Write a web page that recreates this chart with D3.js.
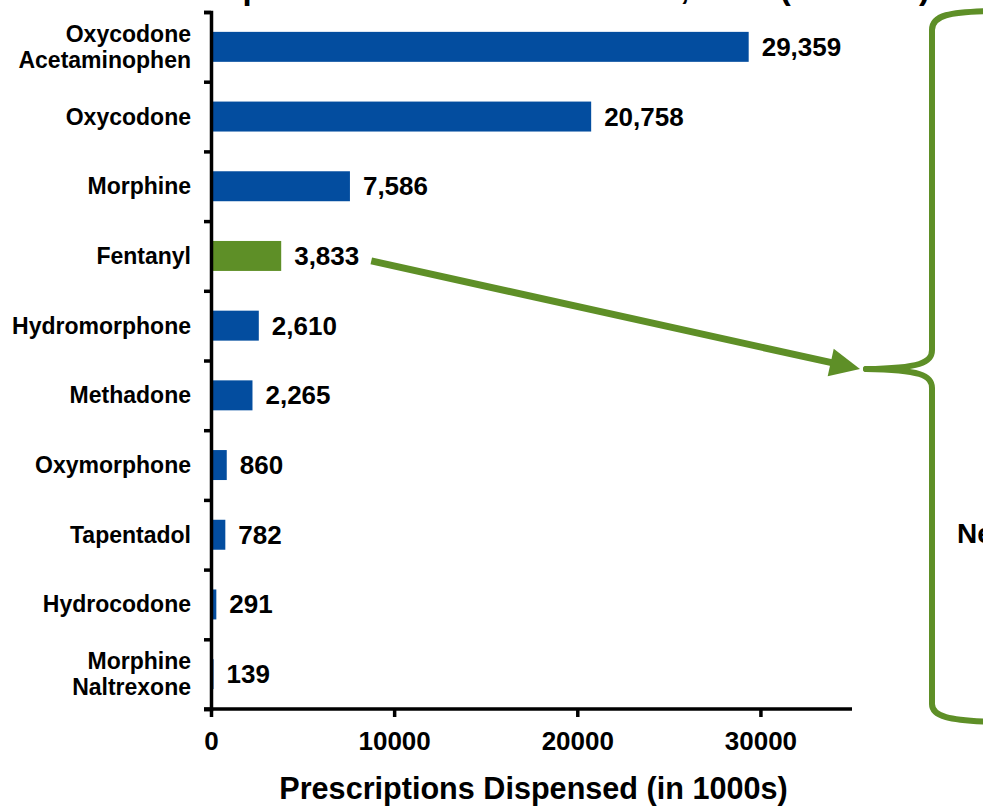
<!DOCTYPE html>
<html>
<head>
<meta charset="utf-8">
<script src="https://cdn.jsdelivr.net/npm/d3@7"></script>
<style>
  body { margin: 0; background: #fff; }
  svg { display: block; font-family: "Liberation Sans", Arial, sans-serif; font-weight: bold; }
</style>
</head>
<body>
<svg id="chart" width="983" height="807"></svg>
<script>
// drugs, top to bottom (multi-line labels split on "\n")
const drugs = [
  "Oxycodone\nAcetaminophen", "Oxycodone", "Morphine", "Fentanyl", "Hydromorphone",
  "Methadone", "Oxymorphone", "Tapentadol", "Hydrocodone", "Morphine\nNaltrexone"
];
// prescriptions dispensed, thousands
const dispensed = [29359, 20758, 7586, 3833, 2610, 2265, 860, 782, 291, 139];
const highlighted = "Fentanyl";
const xTicks = [0, 10000, 20000, 30000];
const xLabel = "Prescriptions Dispensed (in 1000s)";
const titleText = "Top Schedule II Narcotics Sold, 2013 (in 1000s)";
const sideText = "Newer";

const blue = "#034d9f";
const green = "#5e8f27";

const svg = d3.select("#chart");
const data = drugs.map((d, i) => ({ drug: d, value: dispensed[i] }));

const x = d3.scaleLinear().domain([0, 35000]).range([211, 852]);
const y = d3.scaleBand()
  .domain(drugs)
  .range([12, 709])
  .paddingInner(0.57)
  .paddingOuter(0.285);
// band edges for the y axis ticks
const yEdge = d3.scaleLinear().domain([0, drugs.length]).range([12, 709]);

// title, mostly off the top of the picture
svg.append("text")
  .attr("x", 205)
  .attr("y", -1)
  .attr("font-size", 33)
  .attr("textLength", 725)
  .text(titleText);

// bars
svg.selectAll(".bar")
  .data(data)
  .join("rect")
  .attr("class", "bar")
  .attr("x", x(0) + 1.5)
  .attr("y", (d) => y(d.drug))
  .attr("width", (d) => Math.max(0, x(d.value) - x(0) - 1.5))
  .attr("height", y.bandwidth())
  .attr("fill", (d) => (d.drug === highlighted ? green : blue));

// value labels
const valueLabels = svg.selectAll(".value")
  .data(data)
  .join("text")
  .attr("class", "value")
  .attr("x", (d) => x(d.value) + 13)
  .attr("y", (d) => y(d.drug) + y.bandwidth() / 2 + 9)
  .attr("font-size", 26)
  .text((d) => d3.format(",")(d.value));

// category labels
svg.selectAll(".cat")
  .data(data)
  .join("text")
  .attr("class", "cat")
  .attr("text-anchor", "end")
  .attr("font-size", 23)
  .each(function (d) {
    const lines = d.drug.split("\n");
    const cy = y(d.drug) + y.bandwidth() / 2;
    d3.select(this).selectAll("tspan")
      .data(lines)
      .join("tspan")
      .attr("x", 191)
      .attr("y", (l, i) => cy + 8 + (i - (lines.length - 1) / 2) * 26)
      .text((l) => l);
  });

// y axis (ticks at band edges)
const yAxis = svg.append("g")
  .attr("transform", `translate(${x(0)},0)`)
  .call(d3.axisLeft(yEdge).tickValues(d3.range(drugs.length + 1)).tickSize(7).tickSizeOuter(7).tickFormat(""));
yAxis.selectAll("path, line").attr("stroke", "#000").attr("stroke-width", 3.5);

// x axis
const xAxis = svg.append("g")
  .attr("transform", `translate(0,${yEdge.range()[1]})`)
  .call(d3.axisBottom(x).tickValues(xTicks).tickSize(8).tickSizeOuter(0).tickPadding(15).tickFormat(d3.format("d")));
xAxis.select(".domain").attr("stroke", "#000").attr("stroke-width", 3.5)
  .attr("d", `M${x(0) - 7},0H${x.range()[1]}`);
xAxis.selectAll("line").attr("stroke", "#000").attr("stroke-width", 3.5);
xAxis.selectAll("text")
  .attr("fill", "#000")
  .attr("font-size", 26)
  .attr("font-family", "Liberation Sans, Arial, sans-serif")
  .attr("font-weight", "bold");

svg.append("text")
  .attr("x", (x(0) + x.range()[1]) / 2 + 2)
  .attr("y", 799)
  .attr("text-anchor", "middle")
  .attr("font-size", 30.6)
  .text(xLabel);

// brace on the right
const tipX = 866, tipY = 369, braceX = 932;
const brace = svg.append("g")
  .attr("fill", "none")
  .attr("stroke", green)
  .attr("stroke-width", 6)
  .attr("stroke-linecap", "round");
brace.append("path")
  .attr("d", `M990,11 C950,12 ${braceX},15 ${braceX},30 L${braceX},350 C${braceX},363 920,368 ${tipX},${tipY}`);
brace.append("path")
  .attr("d", `M${tipX},${tipY} C920,370 ${braceX},375 ${braceX},388 L${braceX},704 C${braceX},717 950,720 990,722`);

// arrow from the Fentanyl label to the brace
const fentLabel = valueLabels.filter((d) => d.drug === highlighted).node();
const fent = data.find((d) => d.drug === highlighted);
const x0 = x(fent.value) + 13 + fentLabel.getComputedTextLength() + 12;
const y0 = y(highlighted) + y.bandwidth() / 2 + 5;
const x1 = tipX - 6, y1 = tipY;
const ang = Math.atan2(y1 - y0, x1 - x0);
const headLen = 30, headHalf = 14;
const bx = x1 - headLen * Math.cos(ang), by = y1 - headLen * Math.sin(ang);
svg.append("line")
  .attr("x1", x0).attr("y1", y0)
  .attr("x2", bx + 2 * Math.cos(ang)).attr("y2", by + 2 * Math.sin(ang))
  .attr("stroke", green)
  .attr("stroke-width", 7);
svg.append("path")
  .attr("d", d3.line()([
    [x1, y1],
    [bx - headHalf * Math.sin(ang), by + headHalf * Math.cos(ang)],
    [bx + headHalf * Math.sin(ang), by - headHalf * Math.cos(ang)]
  ]) + "Z")
  .attr("fill", green);

// side text, cut by the right edge as in the source slide
svg.append("text")
  .attr("x", 957)
  .attr("y", 543)
  .attr("font-size", 28)
  .text(sideText);
</script>
</body>
</html>
